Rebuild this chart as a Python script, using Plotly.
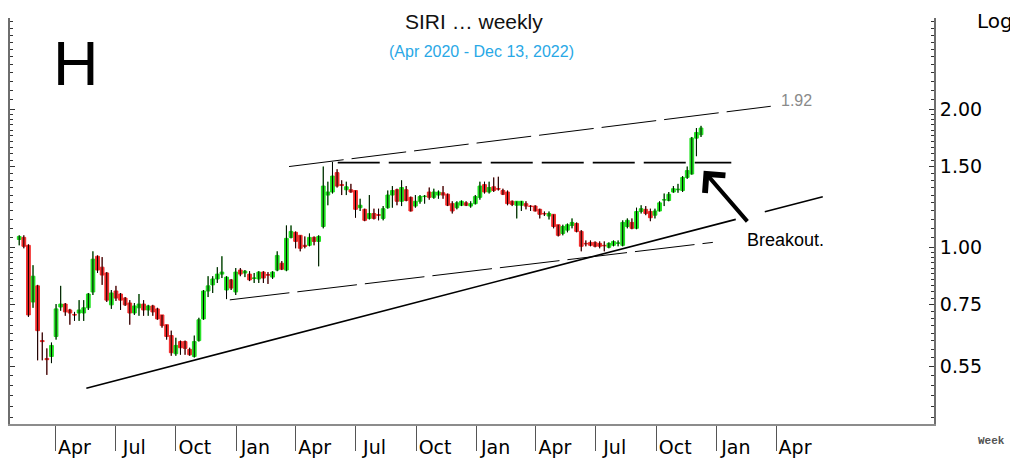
import pandas as pd
import numpy as np
import plotly.graph_objects as go

# ---------------- data (weekly candles) ----------------
week_start = "2020-02-06"
n_weeks = 149

opens = [1.04, 1.051, 1.01, 0.760, 0.824, 0.626, 0.572, 0.578, 0.639, 0.741,
         0.752, 0.730, 0.714, 0.719, 0.719, 0.738, 0.799, 0.956, 0.905, 0.879,
         0.749, 0.803, 0.791, 0.775, 0.756, 0.719, 0.738, 0.752, 0.730, 0.745,
         0.734, 0.712, 0.678, 0.642, 0.586, 0.623, 0.623, 0.599, 0.578, 0.626,
         0.698, 0.803, 0.828, 0.853, 0.874, 0.807, 0.849, 0.799, 0.892, 0.879,
         0.874, 0.855, 0.853, 0.883, 0.872, 0.861, 0.892, 0.923, 0.892, 1.051,
         1.078, 1.062, 1.010, 1.010, 1.051, 1.030, 1.110, 1.300, 1.320, 1.455,
         1.370, 1.335, 1.335, 1.330, 1.220, 1.210, 1.156, 1.185, 1.178, 1.156,
         1.220, 1.300, 1.335, 1.260, 1.335, 1.285, 1.230, 1.260, 1.290, 1.320,
         1.285, 1.300, 1.315, 1.305, 1.245, 1.220, 1.235, 1.250, 1.230, 1.245,
         1.285, 1.370, 1.320, 1.355, 1.342, 1.330, 1.320, 1.260, 1.235, 1.235,
         1.245, 1.230, 1.230, 1.210, 1.185, 1.170, 1.180, 1.120, 1.072, 1.090,
         1.116, 1.127, 1.083, 1.020, 1.025, 1.025, 1.020, 1.010, 1.000, 1.010,
         1.020, 1.010, 1.110, 1.133, 1.100, 1.197, 1.210, 1.197, 1.175, 1.200,
         1.268, 1.265, 1.320, 1.335, 1.330, 1.420, 1.445, 1.730, 1.760]
highs = [1.062, 1.062, 1.015, 0.914, 0.828, 0.652, 0.602, 0.620, 0.752, 0.824,
         0.756, 0.734, 0.723, 0.767, 0.767, 0.795, 0.980, 0.960, 0.952, 0.883,
         0.807, 0.824, 0.795, 0.779, 0.767, 0.756, 0.791, 0.767, 0.749, 0.749,
         0.738, 0.712, 0.678, 0.658, 0.635, 0.626, 0.626, 0.604, 0.642, 0.702,
         0.807, 0.865, 0.865, 0.905, 0.956, 0.865, 0.853, 0.901, 0.901, 0.892,
         0.887, 0.879, 0.887, 0.887, 0.883, 0.887, 0.980, 0.933, 1.116, 1.116,
         1.083, 1.062, 1.056, 1.072, 1.056, 1.062, 1.500, 1.390, 1.535, 1.480,
         1.400, 1.390, 1.375, 1.330, 1.276, 1.214, 1.300, 1.214, 1.214, 1.230,
         1.330, 1.360, 1.342, 1.400, 1.360, 1.290, 1.300, 1.300, 1.300, 1.350,
         1.342, 1.330, 1.360, 1.310, 1.260, 1.260, 1.265, 1.260, 1.260, 1.300,
         1.390, 1.390, 1.390, 1.420, 1.425, 1.342, 1.330, 1.265, 1.260, 1.262,
         1.260, 1.235, 1.235, 1.214, 1.197, 1.197, 1.180, 1.120, 1.120, 1.127,
         1.156, 1.133, 1.090, 1.035, 1.035, 1.030, 1.030, 1.030, 1.025, 1.035,
         1.035, 1.145, 1.156, 1.156, 1.220, 1.235, 1.230, 1.214, 1.214, 1.260,
         1.310, 1.320, 1.360, 1.375, 1.430, 1.500, 1.740, 1.820, 1.840]
lows = [1.010, 0.995, 0.705, 0.738, 0.567, 0.567, 0.527, 0.559, 0.629, 0.727,
        0.709, 0.678, 0.691, 0.691, 0.691, 0.730, 0.787, 0.879, 0.828, 0.760,
        0.734, 0.764, 0.730, 0.745, 0.678, 0.712, 0.709, 0.709, 0.709, 0.709,
        0.695, 0.668, 0.629, 0.580, 0.580, 0.583, 0.583, 0.580, 0.575, 0.623,
        0.695, 0.779, 0.795, 0.836, 0.857, 0.771, 0.807, 0.787, 0.865, 0.861,
        0.844, 0.836, 0.836, 0.836, 0.832, 0.853, 0.887, 0.892, 0.887, 1.046,
        0.995, 0.980, 0.995, 1.005, 1.010, 0.909, 1.100, 1.235, 1.310, 1.350,
        1.300, 1.300, 1.315, 1.160, 1.200, 1.140, 1.150, 1.150, 1.145, 1.145,
        1.214, 1.220, 1.235, 1.230, 1.260, 1.197, 1.220, 1.245, 1.245, 1.270,
        1.276, 1.276, 1.276, 1.230, 1.185, 1.210, 1.230, 1.230, 1.220, 1.240,
        1.270, 1.310, 1.310, 1.320, 1.330, 1.300, 1.235, 1.230, 1.156, 1.200,
        1.210, 1.200, 1.197, 1.156, 1.170, 1.150, 1.100, 1.056, 1.062, 1.078,
        1.100, 1.078, 0.980, 1.005, 1.005, 1.000, 0.995, 0.980, 0.995, 1.005,
        1.005, 1.005, 1.100, 1.095, 1.095, 1.185, 1.175, 1.140, 1.156, 1.197,
        1.230, 1.260, 1.315, 1.315, 1.320, 1.410, 1.440, 1.580, 1.740]
closes = [1.056, 1.005, 0.712, 0.865, 0.658, 0.623, 0.569, 0.611, 0.734, 0.752,
          0.723, 0.719, 0.712, 0.730, 0.738, 0.791, 0.942, 0.892, 0.870, 0.767,
          0.795, 0.775, 0.767, 0.749, 0.719, 0.745, 0.752, 0.730, 0.745, 0.723,
          0.698, 0.675, 0.639, 0.589, 0.611, 0.604, 0.602, 0.583, 0.623, 0.695,
          0.803, 0.824, 0.853, 0.874, 0.883, 0.861, 0.815, 0.883, 0.874, 0.887,
          0.849, 0.857, 0.883, 0.857, 0.870, 0.883, 0.960, 0.896, 1.046, 1.083,
          1.030, 0.995, 1.005, 1.051, 1.030, 1.056, 1.360, 1.320, 1.430, 1.360,
          1.365, 1.355, 1.320, 1.210, 1.235, 1.145, 1.185, 1.156, 1.175, 1.214,
          1.300, 1.330, 1.260, 1.350, 1.265, 1.200, 1.260, 1.290, 1.292, 1.285,
          1.320, 1.320, 1.300, 1.235, 1.200, 1.250, 1.260, 1.235, 1.245, 1.290,
          1.360, 1.320, 1.350, 1.330, 1.340, 1.305, 1.245, 1.240, 1.260, 1.260,
          1.230, 1.228, 1.200, 1.180, 1.183, 1.185, 1.110, 1.062, 1.110, 1.120,
          1.133, 1.083, 1.005, 1.018, 1.010, 1.005, 1.005, 1.008, 1.020, 1.030,
          1.022, 1.133, 1.145, 1.100, 1.197, 1.214, 1.185, 1.160, 1.200, 1.250,
          1.270, 1.305, 1.342, 1.338, 1.420, 1.470, 1.730, 1.780, 1.820]

# trend lines (date, value) pairs
upper_channel_dates = ["2021-03-22", "2023-03-24"]
upper_channel_vals = [1.50, 2.03]
resist_dates = ["2021-06-04", "2023-01-23"]
resist_vals = [1.53, 1.53]
lower_channel_dates = ["2020-12-22", "2022-12-26"]
lower_channel_vals = [0.768, 1.025]
support_dates = ["2020-05-18", "2023-06-11"]
support_vals = [0.493, 1.289]
arrow_head_date = "2022-12-12"
arrow_head_val = 1.468

x_tick_dates = ["2020-04-01", "2020-07-01", "2020-10-01", "2021-01-01", "2021-04-01",
                "2021-07-01", "2021-10-01", "2022-01-01", "2022-04-01", "2022-07-01",
                "2022-10-01", "2023-01-01", "2023-04-01"]
x_tick_text = ["Apr", "Jul", "Oct", "Jan", "Apr", "Jul", "Oct", "Jan", "Apr", "Jul",
               "Oct", "Jan", "Apr"]
y_tick_vals = [0.55, 0.75, 1.0, 1.5, 2.0]
y_tick_text = ["0.55", "0.75", "1.00", "1.50", "2.00"]

dates = pd.date_range(week_start, periods=n_weeks, freq="7D")

GREEN = "#1fe01f"
RED = "#f22a2a"
AXIS_FONT = "DejaVu Sans, Verdana, sans-serif"
ARIAL = "Liberation Sans, Arial, sans-serif"

fig = go.Figure()

# trend lines
fig.add_trace(go.Scatter(x=support_dates, y=support_vals, mode="lines",
                         line=dict(color="black", width=1.6, dash="671px,30px"),
                         hoverinfo="skip", showlegend=False))
fig.add_trace(go.Scatter(x=upper_channel_dates, y=upper_channel_vals, mode="lines",
                         line=dict(color="black", width=1, dash="55px,8px"),
                         hoverinfo="skip", showlegend=False))
fig.add_trace(go.Scatter(x=lower_channel_dates, y=lower_channel_vals, mode="lines",
                         line=dict(color="black", width=1, dash="60px,8px"),
                         hoverinfo="skip", showlegend=False))
fig.add_trace(go.Scatter(x=resist_dates, y=resist_vals, mode="lines",
                         line=dict(color="black", width=1.6, dash="42px,9px"),
                         hoverinfo="skip", showlegend=False))

# candle bodies
fig.add_trace(go.Candlestick(
    x=dates, open=opens, high=highs, low=lows, close=closes,
    increasing=dict(line=dict(color=GREEN, width=1), fillcolor=GREEN),
    decreasing=dict(line=dict(color=RED, width=1), fillcolor=RED),
    whiskerwidth=0, showlegend=False))
# black wicks
fig.add_trace(go.Ohlc(
    x=dates, open=opens, high=highs, low=lows, close=closes,
    tickwidth=0, increasing=dict(line=dict(color="black", width=1)),
    decreasing=dict(line=dict(color="black", width=1)),
    showlegend=False, hoverinfo="skip"))

minor_vals = list(np.round(np.arange(0.425, 1.0, 0.025), 3)) + \
    list(np.round(np.arange(1.0, 2.0, 0.05), 3)) + list(np.round(np.arange(2.0, 3.2, 0.1), 3))

fig.update_layout(
    width=1010, height=450,
    margin=dict(l=0, r=84, t=10, b=31),
    paper_bgcolor="white", plot_bgcolor="white",
    showlegend=False,
    boxgap=0.1, boxgroupgap=0.1,
    xaxis=dict(
        type="date", range=["2020-01-23", "2023-11-27"],
        rangeslider=dict(visible=False),
        tickmode="array", tickvals=x_tick_dates, ticktext=x_tick_text,
        ticks="outside", ticklen=25, tickwidth=1, tickcolor="#555555",
        ticklabelshift=19, ticklabelstandoff=-20,
        tickfont=dict(family=AXIS_FONT, size=19, color="black"),
        showgrid=False, zeroline=False,
        showline=True, linecolor="#8c8c8c", linewidth=2,
    ),
    yaxis=dict(
        type="log", range=[-0.3853, 0.5], side="right",
        tickmode="array", tickvals=y_tick_vals, ticktext=y_tick_text,
        ticks="inside", ticklen=5, tickwidth=1, tickcolor="#333333",
        tickfont=dict(family=AXIS_FONT, size=19, color="black"),
        showgrid=False, zeroline=False,
        showline=True, linecolor="#6e6e6e", linewidth=2, mirror="ticks",
        minor=dict(tickmode="array", tickvals=minor_vals, ticks="inside",
                   ticklen=3, tickwidth=1, tickcolor="#333333", showgrid=False),
    ),
)

ann = []
ann.append(dict(text="SIRI … weekly", xref="paper", yref="paper", x=0.502, y=0.992,
                xanchor="center", yanchor="middle", showarrow=False,
                font=dict(family=ARIAL, size=21, color="#111111")))
ann.append(dict(text="(Apr 2020 - Dec 13, 2022)", xref="paper", yref="paper", x=0.510, y=0.917,
                xanchor="center", yanchor="middle", showarrow=False,
                font=dict(family=ARIAL, size=16, color="#29a8e6")))
ann.append(dict(text="H", xref="paper", yref="paper", x=0.0713, y=0.889,
                xanchor="center", yanchor="middle", showarrow=False,
                font=dict(family=ARIAL, size=63, color="black")))
ann.append(dict(text="Log", xref="paper", yref="paper", x=1.066, y=0.993,
                xanchor="center", yanchor="middle", showarrow=False,
                font=dict(family=AXIS_FONT, size=20, color="black")))
ann.append(dict(text="<b>Week</b>", xref="paper", yref="paper", x=1.062, y=-0.0416,
                xanchor="center", yanchor="middle", showarrow=False,
                font=dict(family="Liberation Mono, Courier New, monospace", size=11, color="#555555")))
ann.append(dict(text="1.92", xref="paper", yref="paper", x=0.851, y=0.797,
                xanchor="center", yanchor="middle", showarrow=False,
                font=dict(family=ARIAL, size=16, color="#8a8a8a")))
ann.append(dict(text="Breakout.", xref="paper", yref="paper", x=0.839, y=0.452,
                xanchor="center", yanchor="middle", showarrow=False,
                font=dict(family=ARIAL, size=18, color="black")))
ann.append(dict(text="", x=arrow_head_date, y=float(np.log10(arrow_head_val)), xref="x", yref="y",
                showarrow=True, arrowhead=4, arrowsize=1.3, arrowwidth=4, arrowcolor="black",
                ax=45, ay=52))
fig.update_layout(annotations=ann)

fig.write_html("out.html")
